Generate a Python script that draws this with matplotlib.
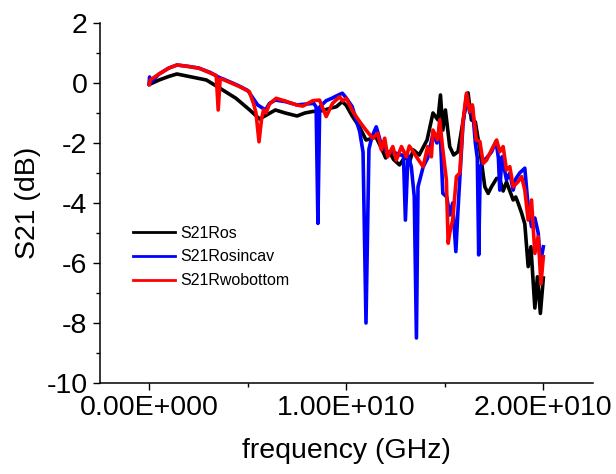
import matplotlib
matplotlib.use("Agg")
import matplotlib.pyplot as plt
from matplotlib.ticker import FuncFormatter, MultipleLocator

plt.rcParams['font.family'] = ['Liberation Sans', 'DejaVu Sans']
plt.rcParams['axes.unicode_minus'] = False

# frequency in GHz, S21 in dB
f_ros = [0, 0.5, 1.0, 1.4, 2.0, 2.9, 3.6, 4.4, 5.1, 5.6, 6.0, 6.4, 6.9, 7.5, 7.9,
         8.3, 8.8, 9.2, 9.5, 9.8, 10.0, 10.3, 10.7, 11.0, 11.3, 11.5, 11.8, 12.0,
         12.2, 12.4, 12.7, 13.0, 13.2, 13.4, 13.7, 14.1, 14.4, 14.65, 14.78, 14.9,
         15.03, 15.25, 15.45, 15.67, 15.92, 16.18, 16.35, 16.55, 16.78, 17.03, 17.2,
         17.37, 17.63, 17.79, 17.96, 18.13, 18.3, 18.47, 18.6, 18.72, 18.9, 19.06,
         19.23, 19.37, 19.57, 19.7, 19.85, 20.0]
s21_ros = [-0.05, 0.1, 0.22, 0.3, 0.22, 0.1, -0.18, -0.51, -0.9, -1.2, -1.05, -0.9,
           -1.0, -1.1, -1.0, -0.95, -0.92, -0.84, -0.79, -0.62, -0.75, -1.1, -1.5,
           -1.9, -1.85, -1.79, -2.2, -2.5, -2.3, -2.55, -2.73, -2.45, -2.65, -2.23,
           -2.4, -1.9, -1.0, -1.23, -0.4, -1.57, -0.9, -2.12, -2.4, -2.29, -1.29,
           -0.33, -1.23, -1.3, -2.23, -3.46, -3.68, -3.46, -3.18, -3.2, -3.6, -3.3,
           -3.6, -3.9, -3.8, -4.0, -4.34, -4.7, -6.12, -5.46, -7.5, -6.46, -7.68,
           -6.5]

f_cav = [0, 0.02, 0.05, 0.5, 1.0, 1.4, 2.0, 2.5, 3.1, 3.5, 3.8, 4.5, 5.0, 5.5, 5.9,
         6.1, 6.4, 6.9, 7.5, 8.0, 8.35, 8.47, 8.56, 8.65, 8.98, 9.3, 9.5, 9.8, 10.0,
         10.3, 10.68, 10.85, 11.0, 11.15, 11.3, 11.52, 11.8, 12.1, 12.4, 12.7, 12.9,
         13.0, 13.13, 13.3, 13.45, 13.56, 13.64, 13.9, 14.13, 14.4, 14.6, 14.75,
         14.9, 15.1, 15.25, 15.4, 15.56, 15.67, 15.76, 15.92, 16.1, 16.27, 16.4,
         16.55, 16.65, 16.72, 16.8, 16.95, 17.12, 17.37, 17.6, 17.72, 17.79, 17.9,
         18.13, 18.3, 18.47, 18.6, 18.8, 19.06, 19.2, 19.4, 19.57, 19.74, 19.85, 20.0]
s21_cav = [0.05, 0.2, 0.0, 0.3, 0.5, 0.6, 0.55, 0.5, 0.35, 0.2, 0.12, -0.08, -0.25,
           -0.73, -0.9, -0.68, -0.57, -0.62, -0.73, -0.7, -0.68, -0.8, -4.68, -0.8,
           -0.59, -0.5, -0.43, -0.34, -0.5, -0.79, -1.62, -2.3, -8.0, -2.2, -1.8,
           -1.46, -2.1, -2.3, -2.3, -2.4, -2.4, -4.57, -2.4, -2.79, -3.79, -8.5,
           -3.46, -2.8, -2.5, -1.7, -2.0, -1.4, -3.68, -3.8, -4.4, -4.0, -5.62,
           -4.23, -3.2, -1.4, -0.4, -1.0, -0.8, -2.0, -2.5, -5.73, -2.8, -2.6, -2.5,
           -2.3, -1.95, -2.5, -3.57, -2.46, -3.23, -3.0, -3.57, -3.2, -3.0, -2.84,
           -3.9, -4.79, -4.5, -5.0, -6.0, -5.46]

f_wob = [0, 0.05, 0.5, 1.0, 1.43, 2.0, 2.54, 3.14, 3.4, 3.5, 3.6, 3.81, 4.58, 5.08,
         5.3, 5.42, 5.57, 5.7, 5.8, 5.93, 6.1, 6.44, 6.9, 7.46, 7.8, 8.3, 8.64, 8.98,
         9.3, 9.66, 9.82, 10.0, 10.34, 10.68, 11.0, 11.34, 11.6, 11.78, 11.95, 12.1,
         12.36, 12.54, 12.8, 13.05, 13.2, 13.4, 13.6, 13.9, 14.13, 14.32, 14.4,
         14.64, 14.74, 14.9, 15.08, 15.17, 15.25, 15.4, 15.59, 15.76, 15.92, 16.1,
         16.27, 16.4, 16.6, 16.78, 16.95, 17.12, 17.37, 17.63, 17.79, 17.96, 18.13,
         18.3, 18.47, 18.72, 18.9, 19.06, 19.23, 19.4, 19.57, 19.74, 19.88, 20.0]
s21_wob = [-0.05, 0.1, 0.3, 0.5, 0.6, 0.55, 0.49, 0.32, 0.25, -0.9, 0.15, 0.1, -0.12,
           -0.29, -0.7, -1.01, -1.96, -1.2, -0.9, -1.0, -0.7, -0.51, -0.6, -0.73,
           -0.77, -0.59, -0.57, -1.12, -0.68, -0.46, -0.6, -0.51, -0.96, -1.29,
           -1.57, -1.84, -1.68, -2.23, -1.84, -2.46, -2.12, -2.57, -2.12, -2.46,
           -2.1, -2.29, -2.5, -2.79, -2.12, -2.46, -1.57, -1.9, -1.23, -2.23, -3.23,
           -5.34, -5.0, -4.57, -3.12, -3.0, -1.29, -0.34, -0.96, -0.73, -1.9, -1.95,
           -2.68, -2.57, -2.23, -1.9, -2.29, -2.12, -2.9, -2.79, -3.46, -3.29, -3.12,
           -3.57, -4.57, -3.9, -5.68, -5.12, -6.7, -5.79]

series = [("S21Ros", f_ros, s21_ros, "black"),
          ("S21Rosincav", f_cav, s21_cav, "#0000ff"),
          ("S21Rwobottom", f_wob, s21_wob, "#ff0000")]


def sci3(v, pos):
    s = "%.2E" % v
    m, e = s.split("E")
    return m + "E" + e[0] + e[1:].zfill(3)


fig = plt.figure(figsize=(6.16, 4.74), dpi=100)
ax = fig.add_axes([0.1623, 0.192, 0.7997, 0.7595])

for name, f, s, col in series:
    ax.plot([v * 1e9 for v in f], s, color=col, lw=2.6, label=name)

ax.set_xlim(-2.5e9, 2.25e10)
ax.set_ylim(-10, 2)
ax.xaxis.set_major_locator(MultipleLocator(1e10))
ax.xaxis.set_minor_locator(MultipleLocator(5e9))
ax.yaxis.set_major_locator(MultipleLocator(2))
ax.yaxis.set_minor_locator(MultipleLocator(1))
ax.xaxis.set_major_formatter(FuncFormatter(sci3))
ax.xaxis.get_offset_text().set_visible(False)

for side in ["top", "right"]:
    ax.spines[side].set_visible(False)
for side in ["left", "bottom"]:
    ax.spines[side].set_linewidth(1.1)

ax.tick_params(which="major", direction="out", length=5, width=1, labelsize=20.5)
ax.tick_params(which="minor", direction="out", length=3, width=1)
ax.tick_params(axis="y", pad=4)
ax.tick_params(axis="x", pad=4)

ax.set_xlabel("frequency (GHz)", fontsize=20.5, labelpad=12)
ax.set_ylabel("S21 (dB)", fontsize=20.5, labelpad=4)

leg = ax.legend(loc="upper left", bbox_to_anchor=(0.055, 0.455), frameon=False,
                fontsize=11.5, handlelength=2.6, handletextpad=0.3,
                labelspacing=0.55, borderaxespad=0)
for line in leg.get_lines():
    line.set_linewidth(2.0)

fig.savefig("out.png", dpi=100)
